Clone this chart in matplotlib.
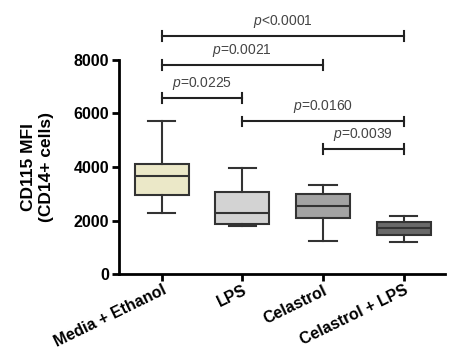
import matplotlib
matplotlib.use("Agg")
import matplotlib.pyplot as plt

plt.rcParams["font.family"] = ["Liberation Sans", "DejaVu Sans"]
plt.rcParams["mathtext.fontset"] = "custom"
plt.rcParams["mathtext.it"] = "Liberation Sans:italic"
plt.rcParams["mathtext.rm"] = "Liberation Sans"

groups = ["Media + Ethanol", "LPS", "Celastrol", "Celastrol + LPS"]
whis_low = [2280, 1820, 1245, 1220]
q1 = [2965, 1880, 2115, 1480]
median = [3665, 2280, 2555, 1730]
q3 = [4125, 3090, 3000, 1965]
whis_high = [5730, 3960, 3340, 2190]
box_colors = ["#ebe8c8", "#d3d3d3", "#a3a3a3", "#696969"]

# comparisons: (group a, group b, bracket height, label)
comp_a = [0, 0, 0, 1, 2]
comp_b = [3, 2, 1, 3, 3]
comp_y = [8880, 7800, 6580, 5705, 4675]
comp_p = ["<0.0001", "=0.0021", "=0.0225", "=0.0160", "=0.0039"]

fig = plt.figure(figsize=(4.54, 3.5), dpi=100)
ax = fig.add_axes([0.262, 0.216, 0.718, 0.613])

stats = []
for i in range(len(groups)):
    stats.append({"whislo": whis_low[i], "q1": q1[i], "med": median[i],
                  "q3": q3[i], "whishi": whis_high[i], "fliers": []})

bp = ax.bxp(stats, positions=range(len(groups)), widths=0.67,
            patch_artist=True, showfliers=False,
            boxprops=dict(edgecolor="#333333", linewidth=1.5),
            medianprops=dict(color="#333333", linewidth=1.5),
            whiskerprops=dict(color="#333333", linewidth=1.5),
            capprops=dict(color="#333333", linewidth=1.5),
            capwidths=0.34)
for patch, c in zip(bp["boxes"], box_colors):
    patch.set_facecolor(c)

ax.set_xlim(-0.53, 3.51)
ax.set_ylim(0, 8000)
ax.set_yticks([0, 2000, 4000, 6000, 8000])
ax.set_xticks(range(len(groups)))
ax.set_xticklabels(groups, rotation=26, ha="right", rotation_mode="anchor",
                   fontsize=11.5, fontweight="bold")
for lab in ax.get_yticklabels():
    lab.set_fontweight("bold")
ax.tick_params(axis="y", labelsize=11.5, width=2, length=5, pad=2)
ax.tick_params(axis="x", width=2, length=5, pad=1)
ax.spines["top"].set_visible(False)
ax.spines["right"].set_visible(False)
ax.spines["left"].set_linewidth(2)
ax.spines["bottom"].set_linewidth(2)
ax.set_ylabel("CD115 MFI\n(CD14+ cells)", fontsize=12.5, fontweight="bold",
              labelpad=14, linespacing=1.3)

for a, b, y, p in zip(comp_a, comp_b, comp_y, comp_p):
    ax.plot([a, b], [y, y], color="#222222", lw=1.5, clip_on=False)
    ax.plot([a, a], [y - 180, y + 180], color="#222222", lw=1.5, clip_on=False)
    ax.plot([b, b], [y - 180, y + 180], color="#222222", lw=1.5, clip_on=False)
    ax.text((a + b) / 2, y + 220, r"$\it{p}$" + p, ha="center", va="bottom",
            fontsize=10, color="#444444", clip_on=False)

fig.savefig("out.png", dpi=100)
